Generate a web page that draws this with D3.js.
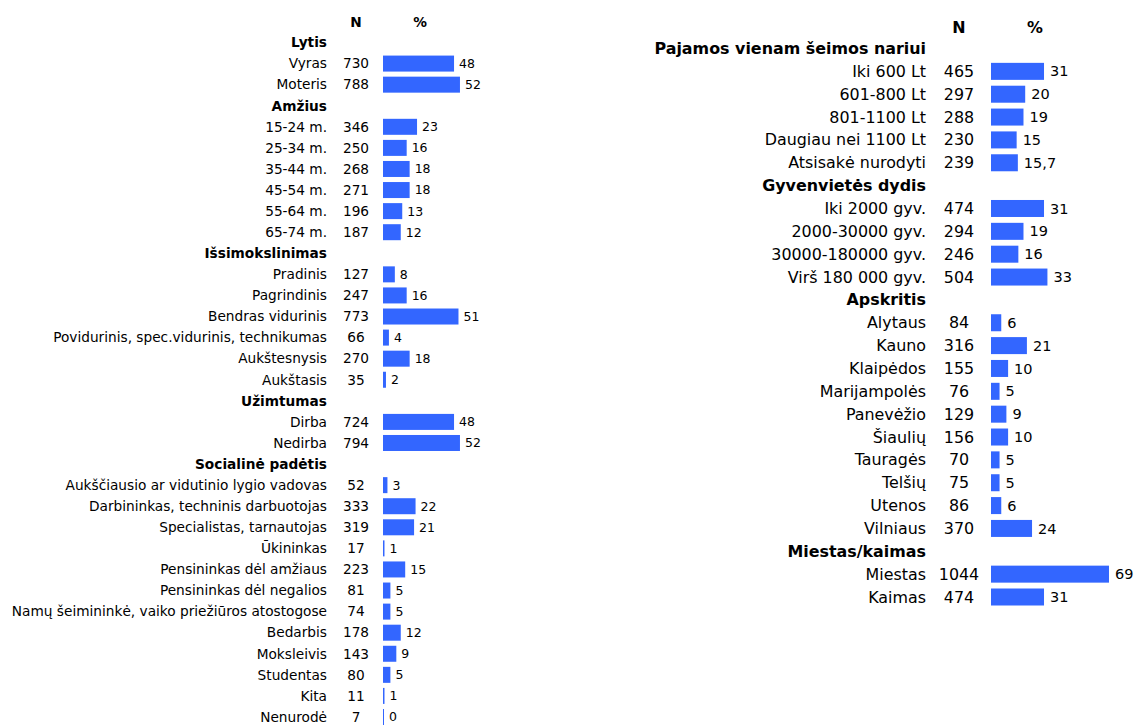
<!DOCTYPE html>
<html>
<head>
<meta charset="utf-8">
<script src="https://cdn.jsdelivr.net/npm/d3@7"></script>
<style>
  body { margin: 0; background: #fff; }
  text { font-family: Verdana, "DejaVu Sans", sans-serif; fill: #000; }
</style>
</head>
<body>
<svg id="chart"></svg>
<script>
// Left panel rows: a null N marks a group heading
const leftRows = ["Lytis", "Vyras", "Moteris",
  "Amžius", "15-24 m.", "25-34 m.", "35-44 m.", "45-54 m.", "55-64 m.", "65-74 m.",
  "Išsimokslinimas", "Pradinis", "Pagrindinis", "Bendras vidurinis",
  "Povidurinis, spec.vidurinis, technikumas", "Aukštesnysis", "Aukštasis",
  "Užimtumas", "Dirba", "Nedirba",
  "Socialinė padėtis", "Aukščiausio ar vidutinio lygio vadovas", "Darbininkas, techninis darbuotojas",
  "Specialistas, tarnautojas", "Ūkininkas", "Pensininkas dėl amžiaus", "Pensininkas dėl negalios",
  "Namų šeimininkė, vaiko priežiūros atostogose", "Bedarbis", "Moksleivis", "Studentas", "Kita", "Nenurodė"];
const leftN = [null, 730, 788,
  null, 346, 250, 268, 271, 196, 187,
  null, 127, 247, 773, 66, 270, 35,
  null, 724, 794,
  null, 52, 333, 319, 17, 223, 81, 74, 178, 143, 80, 11, 7];
const leftPct = [null, 48, 52,
  null, 23, 16, 18, 18, 13, 12,
  null, 8, 16, 51, 4, 18, 2,
  null, 48, 52,
  null, 3, 22, 21, 1, 15, 5, 5, 12, 9, 5, 1, 0];

// Right panel rows
const rightRows = ["Pajamos vienam šeimos nariui", "Iki 600 Lt", "601-800 Lt", "801-1100 Lt",
  "Daugiau nei 1100 Lt", "Atsisakė nurodyti",
  "Gyvenvietės dydis", "Iki 2000 gyv.", "2000-30000 gyv.", "30000-180000 gyv.", "Virš 180 000 gyv.",
  "Apskritis", "Alytaus", "Kauno", "Klaipėdos", "Marijampolės", "Panevėžio", "Šiaulių",
  "Tauragės", "Telšių", "Utenos", "Vilniaus",
  "Miestas/kaimas", "Miestas", "Kaimas"];
const rightN = [null, 465, 297, 288, 230, 239,
  null, 474, 294, 246, 504,
  null, 84, 316, 155, 76, 129, 156, 70, 75, 86, 370,
  null, 1044, 474];
const rightPct = [null, 31, 20, 19, 15, 15.7,
  null, 31, 19, 16, 33,
  null, 6, 21, 10, 5, 9, 10, 5, 5, 6, 24,
  null, 69, 31];

const width = 1134, height = 725;
const barColor = "#3366ff";
const fmtPct = v => String(v).replace(".", ",");

const svg = d3.select("#chart").attr("width", width).attr("height", height);

function drawPanel(cfg) {
  const idx = d3.range(cfg.rows.length);
  const y = d3.scalePoint().domain(idx).range(cfg.yRange);
  const x = d3.scaleLinear().domain([0, 100]).range([cfg.barX, cfg.barX + cfg.barSpan]);
  const g = svg.append("g");

  // column headers
  g.append("text").attr("x", cfg.nX).attr("y", cfg.headY).attr("dy", "0.35em")
    .attr("text-anchor", "middle").attr("font-weight", "bold").attr("font-size", cfg.fs)
    .text("N");
  g.append("text").attr("x", cfg.pctX).attr("y", cfg.headY).attr("dy", "0.35em")
    .attr("text-anchor", "middle").attr("font-weight", "bold").attr("font-size", cfg.fs)
    .text("%");

  // row labels
  g.selectAll(".lab").data(idx).join("text")
    .attr("x", cfg.labelX).attr("y", i => y(i)).attr("dy", "0.35em")
    .attr("text-anchor", "end").attr("font-size", cfg.fs)
    .attr("font-weight", i => cfg.n[i] === null ? "bold" : "normal")
    .text(i => cfg.rows[i]);

  const items = idx.filter(i => cfg.n[i] !== null);

  // N column
  g.selectAll(".n").data(items).join("text")
    .attr("x", cfg.nX).attr("y", i => y(i)).attr("dy", "0.35em")
    .attr("text-anchor", "middle").attr("font-size", cfg.fs)
    .text(i => cfg.n[i]);

  // bars
  g.selectAll(".bar").data(items).join("rect")
    .attr("x", x(0)).attr("y", i => y(i) - cfg.barH / 2)
    .attr("width", i => Math.max(x(cfg.pct[i]) - x(0), 1))
    .attr("height", cfg.barH)
    .attr("fill", barColor);

  // percent labels
  g.selectAll(".pv").data(items).join("text")
    .attr("x", i => Math.max(x(cfg.pct[i]), x(0) + 1) + cfg.gap).attr("y", i => y(i)).attr("dy", "0.35em")
    .attr("font-size", cfg.vfs)
    .text(i => fmtPct(cfg.pct[i]));
}

drawPanel({
  rows: leftRows, n: leftN, pct: leftPct,
  yRange: [42.5, 717], headY: 22,
  labelX: 327, nX: 356, pctX: 420,
  barX: 383, barSpan: 148, barH: 16,
  fs: 13.7, vfs: 12.5, gap: 5
});

drawPanel({
  rows: rightRows, n: rightN, pct: rightPct,
  yRange: [48.5, 597], headY: 27,
  labelX: 926, nX: 959, pctX: 1035,
  barX: 991, barSpan: 171, barH: 17,
  fs: 15.9, vfs: 14.5, gap: 6
});
</script>
</body>
</html>
